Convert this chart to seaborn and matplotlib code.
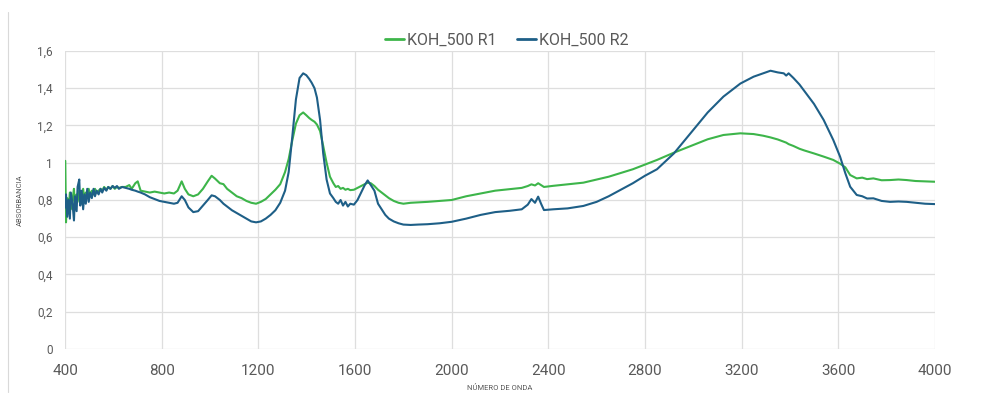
import matplotlib
matplotlib.use("Agg")
import matplotlib.pyplot as plt
import seaborn as sns
import pandas as pd
from matplotlib.lines import Line2D

# FTIR spectra of the two KOH_500 replicates
wavenumber = [
    400, 403, 408, 413, 419, 423, 430, 436, 440, 447, 451, 458, 462, 468, 474, 479,
    485, 491, 497, 503, 510, 517, 523, 530, 538, 546, 553, 561, 570, 578, 587, 596,
    605, 614, 622, 635, 650, 665, 675, 690, 700, 712, 730, 750, 770, 790, 810, 830,
    850, 865, 882, 895, 910, 930, 950, 970, 990, 1006, 1020, 1040, 1055, 1070,
    1090, 1110, 1130, 1150, 1170, 1190, 1210, 1230, 1250, 1270, 1290, 1310,
    1325, 1340, 1355, 1370, 1385, 1398, 1410, 1420, 1432, 1442, 1455, 1468,
    1482, 1496, 1510, 1520, 1530, 1540, 1550, 1560, 1570, 1580, 1595, 1610,
    1625, 1640, 1652, 1665, 1680, 1695, 1710, 1725, 1740, 1760, 1780, 1800,
    1830, 1860, 1900, 1950, 2000, 2060, 2120, 2180, 2240, 2290, 2315, 2330,
    2345, 2358, 2370, 2382, 2420, 2480, 2545, 2600, 2650, 2700, 2750, 2800,
    2850, 2920, 2990, 3060, 3125, 3195, 3250, 3290, 3320, 3350, 3375, 3385,
    3395, 3415, 3440, 3460, 3500, 3540, 3580, 3608, 3630, 3650, 3677, 3700,
    3720, 3746, 3780, 3815, 3850, 3884, 3920, 3960, 4000,
]

r1 = [
    1.01, 0.68, 0.81, 0.73, 0.84, 0.75, 0.80, 0.86, 0.76, 0.83, 0.79, 0.85, 0.78, 0.82, 0.86, 0.80,
    0.84, 0.81, 0.86, 0.82, 0.85, 0.83, 0.86, 0.84, 0.85, 0.86, 0.85, 0.87, 0.855, 0.87, 0.86, 0.875,
    0.86, 0.87, 0.865, 0.87, 0.87, 0.88, 0.86, 0.89, 0.90, 0.85, 0.845, 0.84, 0.845, 0.84, 0.835, 0.84,
    0.835, 0.85, 0.90, 0.86, 0.83, 0.82, 0.83, 0.86, 0.90, 0.93, 0.915, 0.89, 0.885, 0.86,
    0.84, 0.82, 0.81, 0.795, 0.785, 0.78, 0.79, 0.805, 0.83, 0.855, 0.885, 0.95,
    1.02, 1.12, 1.21, 1.255, 1.27, 1.255, 1.24, 1.23, 1.22, 1.205, 1.17, 1.09,
    1.00, 0.925, 0.89, 0.87, 0.875, 0.86, 0.865, 0.855, 0.86, 0.853, 0.855, 0.865,
    0.875, 0.885, 0.893, 0.89, 0.875, 0.855, 0.84, 0.825, 0.81, 0.795, 0.785, 0.78,
    0.785, 0.787, 0.79, 0.795, 0.80, 0.82, 0.835, 0.85, 0.858, 0.865, 0.875, 0.884,
    0.878, 0.89, 0.88, 0.87, 0.876, 0.884, 0.893, 0.91, 0.925, 0.945, 0.965, 0.99,
    1.015, 1.054, 1.09, 1.126, 1.149, 1.158, 1.154, 1.145, 1.136, 1.125, 1.113, 1.108,
    1.10, 1.09, 1.075, 1.066, 1.05, 1.033, 1.015, 0.995, 0.975, 0.934, 0.916, 0.92,
    0.912, 0.916, 0.906, 0.907, 0.91, 0.907, 0.902, 0.90, 0.898,
]

r2 = [
    0.76, 0.83, 0.71, 0.80, 0.70, 0.84, 0.78, 0.69, 0.82, 0.74, 0.87, 0.91, 0.77, 0.85, 0.75, 0.83,
    0.78, 0.86, 0.79, 0.84, 0.81, 0.86, 0.82, 0.85, 0.83, 0.86, 0.84, 0.865, 0.85, 0.87, 0.86, 0.875,
    0.865, 0.875, 0.86, 0.87, 0.865, 0.86, 0.855, 0.85, 0.845, 0.84, 0.83, 0.815, 0.805, 0.795, 0.79, 0.785,
    0.78, 0.785, 0.82, 0.80, 0.76, 0.735, 0.74, 0.77, 0.80, 0.825, 0.82, 0.80, 0.78, 0.765,
    0.745, 0.73, 0.715, 0.70, 0.685, 0.68, 0.685, 0.70, 0.72, 0.745, 0.785, 0.85,
    0.95, 1.14, 1.34, 1.455, 1.48, 1.47, 1.45, 1.43, 1.40, 1.35, 1.23, 1.05,
    0.91, 0.835, 0.81, 0.79, 0.78, 0.80, 0.77, 0.79, 0.765, 0.78, 0.775, 0.80,
    0.84, 0.88, 0.905, 0.88, 0.85, 0.78, 0.75, 0.72, 0.70, 0.685, 0.675, 0.668,
    0.666, 0.668, 0.67, 0.675, 0.683, 0.70, 0.72, 0.735, 0.742, 0.75, 0.775, 0.805,
    0.785, 0.818, 0.78, 0.746, 0.75, 0.755, 0.768, 0.79, 0.82, 0.855, 0.89, 0.93,
    0.965, 1.05, 1.16, 1.27, 1.355, 1.425, 1.462, 1.48, 1.494, 1.485, 1.48, 1.468,
    1.48, 1.455, 1.42, 1.385, 1.316, 1.23, 1.122, 1.033, 0.943, 0.871, 0.827, 0.82,
    0.808, 0.809, 0.795, 0.79, 0.792, 0.79, 0.785, 0.78, 0.778,
]

series_names = ["KOH_500 R1", "KOH_500 R2"]
series_colors = ["#3db54a", "#1e5f87"]
x_ticks = [400, 800, 1200, 1600, 2000, 2400, 2800, 3200, 3600, 4000]
y_ticks = [0, 0.2, 0.4, 0.6, 0.8, 1.0, 1.2, 1.4, 1.6]
y_tick_labels = ["0", "0,2", "0,4", "0,6", "0,8", "1", "1,2", "1,4", "1,6"]

df = pd.concat([
    pd.DataFrame({"wn": wavenumber, "abs": r1, "serie": series_names[0]}),
    pd.DataFrame({"wn": wavenumber, "abs": r2, "serie": series_names[1]}),
])

sns.set_theme(style="white")
plt.rcParams["font.family"] = ["Roboto", "DejaVu Sans"]

fig = plt.figure(figsize=(9.86, 3.94), dpi=100)
ax = fig.add_axes([0.0662, 0.1142, 0.8818, 0.7564])

sns.lineplot(data=df, x="wn", y="abs", hue="serie", palette=series_colors,
             hue_order=series_names, sort=False, estimator=None,
             linewidth=1.5, ax=ax, legend=False)

ax.set_xlim(400, 4000)
ax.set_ylim(0, 1.6)
ax.set_xticks(x_ticks)
ax.set_xticklabels([str(t) for t in x_ticks])
ax.set_yticks(y_ticks)
ax.set_yticklabels(y_tick_labels)
ax.grid(True, color="#dedede", linewidth=0.9)
ax.set_axisbelow(True)
for s in ax.spines.values():
    s.set_visible(False)
ax.tick_params(axis="x", length=0, pad=11, labelsize=11, labelcolor="#595959")
ax.tick_params(axis="y", length=0, pad=9, labelsize=8.5, labelcolor="#595959")

ax.set_xlabel("NÚMERO DE ONDA", fontsize=5.5, color="#595959", labelpad=4)
ax.set_ylabel("ABSORBANCIA", fontsize=5.5, color="#595959", labelpad=10)

handles = [Line2D([0], [0], color=c, linewidth=2) for c in series_colors]
fig.legend(handles, series_names, loc="center", bbox_to_anchor=(0.514, 0.898),
           ncol=2, frameon=False, fontsize=11.5, handlelength=1.2,
           handletextpad=0.15, columnspacing=1.3, labelcolor="#595959")

# chart area border on the left edge
fig.add_artist(Line2D([8 / 986, 8 / 986], [0.005, 0.97], transform=fig.transFigure,
                      color="#d9d9d9", linewidth=0.8))

fig.savefig("out.png", dpi=100)
